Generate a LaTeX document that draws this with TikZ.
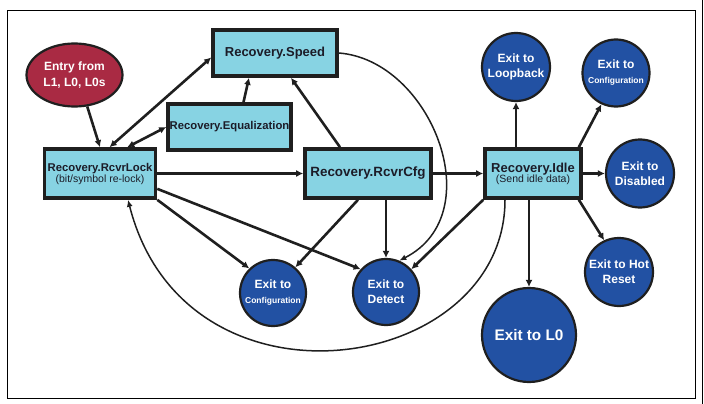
\documentclass[tikz,border=0pt]{standalone}
\usepackage{fontspec}
\setmainfont{Liberation Sans}
\usetikzlibrary{calc}
\usetikzlibrary{positioning}
\usetikzlibrary{arrows.meta}
\usetikzlibrary{shapes.geometric}

\definecolor{boxfill}{RGB}{135,211,227}
\definecolor{exitfill}{RGB}{34,81,163}
\definecolor{entryfill}{RGB}{169,42,67}
\definecolor{boxtext}{RGB}{28,28,40}

\tikzset{
  recbox/.style={draw=black!88,line width=3.6pt,fill=boxfill,text=boxtext,align=center,inner sep=1pt},
  exitnode/.style={circle,draw=black!88,line width=2.2pt,fill=exitfill,text=white,align=center,inner sep=0pt,
    font=\bfseries\fontsize{12}{15}\selectfont},
  trans/.style={draw=black!88,line width=2.6pt,-{Latex[length=7pt,width=7pt]}},
  bitrans/.style={draw=black!88,line width=2.6pt,{Latex[length=7pt,width=7pt]}-{Latex[length=7pt,width=7pt]}},
  loop/.style={draw=black!88,line width=1.5pt,-{Latex[length=7pt,width=6pt]}}
}

\begin{document}
\begin{tikzpicture}[x=1pt,y=1pt]
        \useasboundingbox (0,0) rectangle (704,-404);
        \draw[line width=1pt] (7,-11) rectangle (695,-398);
        \draw[line width=1.6pt] (702.5,0) -- (702.5,-404);

        % states
        \node[recbox,minimum width=124,minimum height=46,font=\bfseries\fontsize{13}{15}\selectfont] (speed) at (275,-53) {Recovery.Speed};
        \node[recbox,minimum width=123,minimum height=46,font=\bfseries\fontsize{11.3}{13}\selectfont] (equal) at (229.5,-127) {Recovery.Equalization};
        \node[recbox,minimum width=111,minimum height=49] (rcvrlock) at (100,-173.5)
          {{\bfseries\fontsize{11.3}{13}\selectfont Recovery.RcvrLock}\\[-1pt]{\fontsize{10.5}{12}\selectfont (bit/symbol re-lock)}};
        \node[recbox,minimum width=126,minimum height=49,font=\bfseries\fontsize{13.4}{15}\selectfont] (rcvrcfg) at (368,-173.5) {Recovery.RcvrCfg};
        \node[recbox,minimum width=96,minimum height=49] (idle) at (533,-173.5)
          {{\bfseries\fontsize{13}{15}\selectfont Recovery.Idle}\\[-2pt]{\fontsize{10.5}{12}\selectfont (Send idle data)}};

        \node[ellipse,draw=black!88,line width=2.2pt,fill=entryfill,text=white,align=center,
          minimum width=96,minimum height=63,inner sep=0pt,font=\bfseries\fontsize{12}{16}\selectfont]
          (entry) at (74.5,-75) {Entry from\\L1, L0, L0s};

        % exits
        \node[exitnode,minimum size=68] (loopback) at (516,-67) {Exit to\\Loopback};
        \node[exitnode,minimum size=67] (cfgtop) at (616,-73) {Exit to\\{\fontsize{8.5}{10}\selectfont Configuration}};
        \node[exitnode,minimum size=68] (disabled) at (640,-173.5) {Exit to\\Disabled};
        \node[exitnode,minimum size=68] (hotreset) at (619,-272) {Exit to Hot\\Reset};
        \node[exitnode,minimum size=94,font=\bfseries\fontsize{15.3}{18}\selectfont] (exitl0) at (529,-335) {Exit to L0};
        \node[exitnode,minimum size=66] (detect) at (386,-292) {Exit to\\Detect};
        \node[exitnode,minimum size=66] (cfgbot) at (273,-293) {Exit to\\{\fontsize{8.5}{10}\selectfont Configuration}};

        % transitions
        \draw[trans] (entry.-68) -- (rcvrlock.north);
        \draw[bitrans] (rcvrlock.70) -- (speed.184);
        \draw[bitrans] (rcvrlock.44) -- (equal.west);
        \draw[trans] ([xshift=14]equal.north) -- ([xshift=-26]speed.south);
        \draw[trans] ([xshift=-28]rcvrcfg.north) -- ([xshift=16]speed.south);
        \draw[trans] (rcvrlock.east) -- (rcvrcfg.west);
        \draw[trans] (rcvrcfg.east) -- (idle.west);
        \draw[trans] (rcvrlock.south east) -- (cfgbot.134);
        \draw[trans] (rcvrlock.-15) -- (detect.138);
        \draw[trans] ([xshift=-10]rcvrcfg.south) -- (cfgbot.49);
        \draw[trans] (rcvrcfg.south -| detect.north) -- (detect.north);
        \draw[trans] (idle.south west) -- (detect.42);
        \draw[loop] (speed.east) .. controls +(92,-7) and +(92,47) .. (detect.67);
        \draw[loop] ([xshift=-28]idle.south) .. controls +(0,-175) and +(57,-224) .. ([xshift=28]rcvrlock.south);

        \draw[trans] (idle.north -| loopback.south) -- (loopback.south);
        \draw[trans] ([xshift=-4]idle.north east) -- (cfgtop.-115);
        \draw[trans] (idle.east) -- (disabled.west);
        \draw[trans] ([xshift=-4]idle.south east) -- (hotreset.115);
        \draw[trans] (idle.south -| exitl0.north) -- (exitl0.north);
      \end{tikzpicture}
\end{document}
